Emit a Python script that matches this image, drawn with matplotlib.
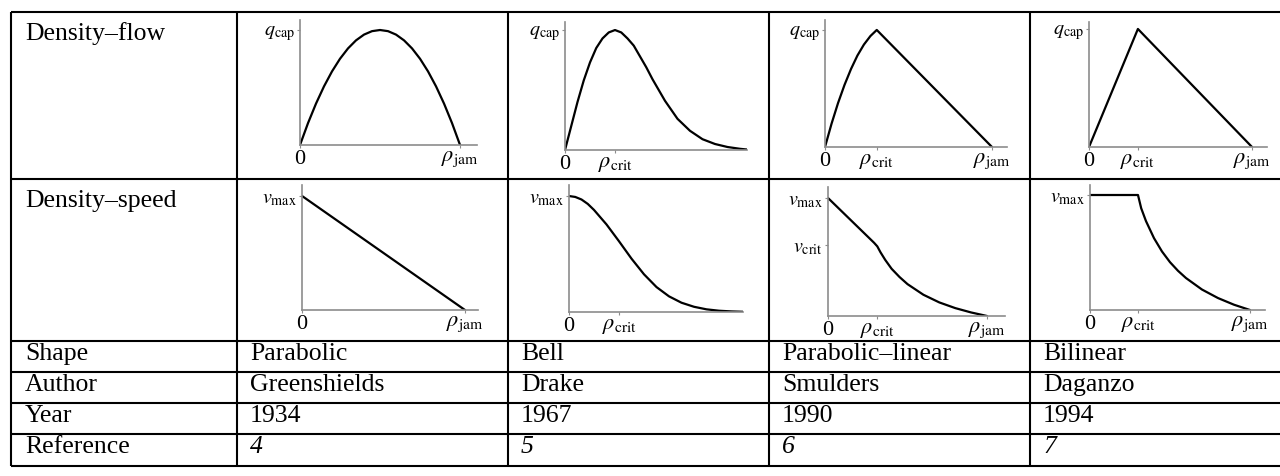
import matplotlib.pyplot as plt

plt.rcParams['font.family'] = ['Liberation Serif', 'DejaVu Serif']
plt.rcParams['mathtext.fontset'] = 'stix'

W, H = 1280, 476

# table text
row_names = ['Density\u2013flow', 'Density\u2013speed', 'Shape', 'Author', 'Year', 'Reference']
shapes = ['Parabolic', 'Bell', 'Parabolic\u2013linear', 'Bilinear']
authors = ['Greenshields', 'Drake', 'Smulders', 'Daganzo']
years = ['1934', '1967', '1990', '1994']
refs = ['4', '5', '6', '7']

# critical densities (fraction of rho_jam)
rho_crit_smulders = 0.31
rho_crit_daganzo = 0.30
v_crit_smulders = 0.60

# density-flow curves (x: rho/rho_jam, Drake: rho/rho_crit ; y: q/q_cap)
gs_flow_x = [0, .05, .1, .15, .2, .25, .3, .35, .4, .45, .5, .55, .6, .65, .7, .75, .8, .85, .9, .95, 1]
gs_flow_y = [0, .19, .36, .51, .64, .75, .84, .91, .96, .99, 1, .99, .96, .91, .84, .75, .64, .51, .36, .19, 0]

dr_flow_x = [0, .125, .25, .375, .5, .625, .75, .875, 1, 1.125, 1.25, 1.375, 1.5, 1.625, 1.75,
             2, 2.25, 2.5, 2.75, 3, 3.25, 3.5, 3.64]
dr_flow_y = [0, .20, .40, .58, .73, .85, .93, .98, 1, .98, .93, .87, .78, .69, .59,
             .41, .26, .16, .09, .05, .025, .01, .004]

sm_flow_x = [0, .039, .078, .117, .156, .194, .233, .272, .31, 1]
sm_flow_y = [0, .198, .375, .531, .667, .781, .875, .948, 1, 0]

dg_flow_x = [0, .30, 1]
dg_flow_y = [0, 1, 0]

# density-speed curves (y: v/v_max)
gs_speed_x = [0, 1]
gs_speed_y = [1, 0]

dr_speed_x = [0, .125, .25, .375, .5, .75, 1, 1.25, 1.5, 1.75, 2, 2.25, 2.5, 2.75, 3, 3.25, 3.48]
dr_speed_y = [1, .992, .97, .932, .88, .755, .61, .46, .325, .215, .135, .08, .045, .023, .011, .005, .002]

sm_speed_x = [0, .29, .31, .33, .36, .4, .45, .5, .6, .7, .8, .9, 1]
sm_speed_y = [1, .62, .59, .54, .475, .40, .33, .27, .18, .115, .067, .03, 0]

dg_speed_x = [0, .30, .32, .35, .4, .45, .5, .55, .6, .7, .8, .9, 1]
dg_speed_y = [1, 1, .885, .773, .625, .509, .416, .341, .278, .178, .104, .046, 0]

fig = plt.figure(figsize=(W / 100, H / 100), dpi=100)

# table grid, drawn in pixel units
col_x = [11, 237, 508, 769, 1030]
row_y = [12, 179, 341, 372, 403, 434, 466]

tab = fig.add_axes([0, 0, 1, 1])
tab.set_xlim(0, W)
tab.set_ylim(H, 0)
tab.axis('off')
tab.hlines(row_y, col_x[0], W, color='black', lw=1.5)
tab.vlines(col_x, row_y[0], row_y[-1], color='black', lw=1.5)

fs = 18.5
for i, name in enumerate(row_names):
    base = row_y[i] + (28 if i < 2 else 19)
    tab.text(col_x[0] + 14, base, name, fontsize=fs, va='baseline')
for j in range(4):
    x = col_x[j + 1] + 13
    tab.text(x, row_y[2] + 19, shapes[j], fontsize=fs, va='baseline')
    tab.text(x, row_y[3] + 19, authors[j], fontsize=fs, va='baseline')
    tab.text(x, row_y[4] + 19, years[j], fontsize=fs, va='baseline')
    tab.text(x, row_y[5] + 19, refs[j], fontsize=fs, va='baseline', style='italic')

r_jam = r'$\rho_{\mathrm{jam}}$'
r_crit = r'$\rho_{\mathrm{crit}}$'
q_cap = r'$q_{\mathrm{cap}}$'
v_max = r'$v_{\mathrm{max}}$'
v_crit = r'$v_{\mathrm{crit}}$'

# (x0, y of x-axis, width, height) in pixels, xmax, ymax, x ticks, y ticks
panels = [
    ((300, 145, 177, 125), 1.106, 1.087, [(0, '0'), (1, r_jam)], [(1, q_cap)], gs_flow_x, gs_flow_y),
    ((565, 150, 182, 128), 3.64, 1.067, [(0, '0'), (1, r_crit)], [(1, q_cap)], dr_flow_x, dr_flow_y),
    ((825, 147, 182, 127), 1.09, 1.085, [(0, '0'), (rho_crit_smulders, r_crit), (1, r_jam)], [(1, q_cap)], sm_flow_x, sm_flow_y),
    ((1089, 147, 178, 125), 1.092, 1.059, [(0, '0'), (rho_crit_daganzo, r_crit), (1, r_jam)], [(1, q_cap)], dg_flow_x, dg_flow_y),
    ((302, 310, 176, 125), 1.08, 1.096, [(0, '0'), (1, r_jam)], [(1, v_max)], gs_speed_x, gs_speed_y),
    ((569, 312, 174, 127), 3.48, 1.095, [(0, '0'), (1, r_crit)], [(1, v_max)], dr_speed_x, dr_speed_y),
    ((828, 316, 177, 129), 1.113, 1.093, [(0, '0'), (rho_crit_smulders, r_crit), (1, r_jam)],
     [(v_crit_smulders, v_crit), (1, v_max)], sm_speed_x, sm_speed_y),
    ((1090, 310, 175, 125), 1.094, 1.087, [(0, '0'), (rho_crit_daganzo, r_crit), (1, r_jam)], [(1, v_max)], dg_speed_x, dg_speed_y),
]

for (x0, yb, w, h), xmax, ymax, xt, yt, xs, ys in panels:
    ax = fig.add_axes([x0 / W, 1 - yb / H, w / W, h / H])
    ax.plot(xs, ys, color='black', lw=1.6, solid_capstyle='round', solid_joinstyle='round')
    ax.set_xlim(0, xmax)
    ax.set_ylim(0, ymax)
    for s in ['top', 'right']:
        ax.spines[s].set_visible(False)
    for s in ['left', 'bottom']:
        ax.spines[s].set_color('#8c8c8c')
        ax.spines[s].set_linewidth(1.2)
    ax.set_xticks([t[0] for t in xt])
    ax.set_xticklabels([t[1] for t in xt], fontsize=16)
    ax.set_yticks([t[0] for t in yt])
    ax.set_yticklabels([t[1] for t in yt], fontsize=14.5)
    ax.tick_params(axis='both', length=2, width=0.8, color='#8c8c8c', pad=1.5)
    ax.patch.set_visible(False)

fig.savefig('out.png', dpi=100)
